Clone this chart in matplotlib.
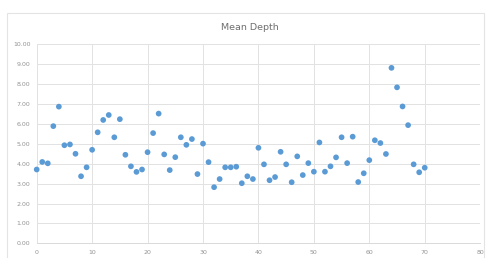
#!/usr/bin/env python3
"""Mean Depth scatter, Excel-like styling."""

import matplotlib
matplotlib.use("Agg")
import matplotlib.pyplot as plt
from matplotlib.patches import Rectangle
import numpy as np


X_VALUES = list(range(0, 71))
MEAN_DEPTH = [
    3.71, 4.09, 4.02, 5.89, 6.87, 4.93, 4.97, 4.50, 3.37, 3.82,
    4.70, 5.58, 6.20, 6.45, 5.33, 6.24, 4.45, 3.87, 3.59, 3.71,
    4.58, 5.54, 6.52, 4.47, 3.68, 4.33, 5.33, 4.95, 5.24, 3.48,
    5.01, 4.08, 2.82, 3.23, 3.82, 3.82, 3.85, 3.02, 3.37, 3.23,
    4.80, 3.97, 3.17, 3.33, 4.60, 3.97, 3.07, 4.37, 3.43, 4.03,
    3.60, 5.07, 3.60, 3.87, 4.32, 5.33, 4.03, 5.36, 3.08, 3.52,
    4.18, 5.18, 5.04, 4.49, 8.82, 7.84, 6.88, 5.94, 3.97, 3.57,
    3.80,
]
X_TICKS = np.arange(0, 81, 10)
Y_TICKS = np.arange(0, 11, 1)
TITLE = "Mean Depth"


def main() -> None:
    fig = plt.figure(figsize=(4.86, 2.58), dpi=100)
    ax = fig.add_axes([0.0755, 0.057, 0.9125, 0.771])

    # chart area border like the spreadsheet frame
    fig.patches.append(
        Rectangle((7 / 486, -0.05), 477 / 486, 1.05 - 13 / 258,
                  transform=fig.transFigure, fill=False,
                  edgecolor="#e4e4e4", lw=0.8)
    )

    ax.scatter(X_VALUES, MEAN_DEPTH, s=17, color="#5b9bd5",
               edgecolor="none", zorder=3, clip_on=False)

    ax.set_xlim(0, 80)
    ax.set_ylim(0, 10)
    ax.set_xticks(X_TICKS)
    ax.set_yticks(Y_TICKS)
    ax.set_yticklabels([f"{v:.2f}" for v in Y_TICKS])
    ax.tick_params(axis="both", length=0, labelsize=4.5, labelcolor="#939393")
    ax.tick_params(axis="y", pad=4.5)
    ax.tick_params(axis="x", pad=5)
    ax.grid(True, color="#e2e2e2", lw=0.7)
    ax.set_axisbelow(True)
    for side in ["top", "right", "left"]:
        ax.spines[side].set_visible(False)
    ax.spines["bottom"].set_color("#d9d9d9")
    ax.spines["bottom"].set_linewidth(0.7)

    fig.text(250 / 486, 1 - 28 / 258, TITLE, ha="center", va="center",
             fontsize=6.8, color="#6f6f6f")

    fig.savefig("out.png", dpi=100)
    plt.close(fig)


if __name__ == "__main__":
    main()
